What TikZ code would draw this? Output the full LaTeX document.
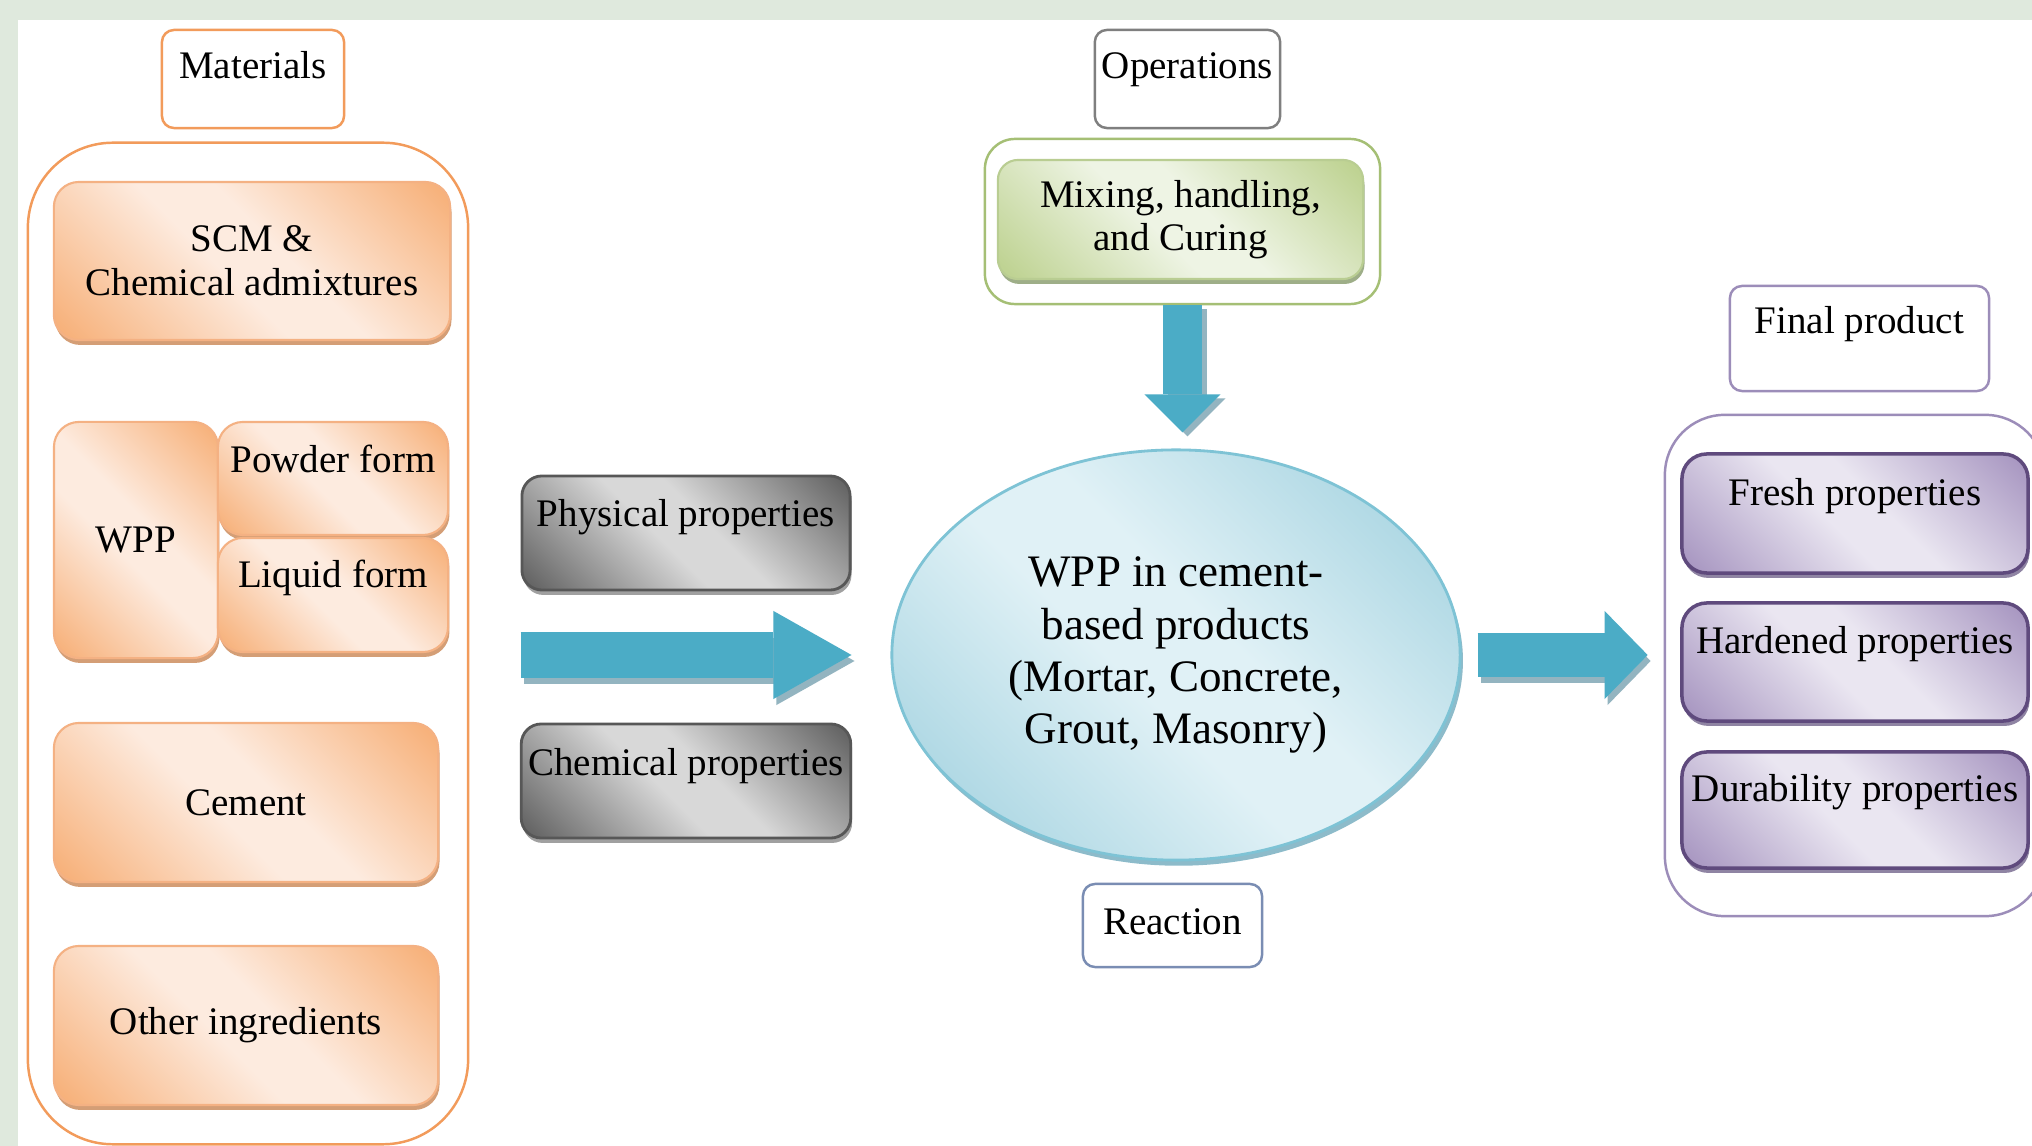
\documentclass[tikz,border=0pt]{standalone}
\usepackage{fontspec}
\setmainfont{Liberation Serif}
\usetikzlibrary{shapes.geometric,shadows,arrows.meta}

\definecolor{pagegreen}{HTML}{DFE9DD}
\definecolor{ordark}{HTML}{F7B27C}
\definecolor{orlight}{HTML}{FDEBDF}
\definecolor{orline}{HTML}{F4B183}
\definecolor{orshadow}{HTML}{D49E76}
\definecolor{orframe}{HTML}{F29B5B}
\definecolor{gndark}{HTML}{BFD393}
\definecolor{gnlight}{HTML}{EEF4E4}
\definecolor{gnline}{HTML}{B9CD92}
\definecolor{gnshadow}{HTML}{9EAE88}
\definecolor{gnframe}{HTML}{A5BF75}
\definecolor{gydark}{HTML}{666666}
\definecolor{gylight}{HTML}{D8D8D8}
\definecolor{gyline}{HTML}{575757}
\definecolor{gyshadow}{HTML}{A0A0A0}
\definecolor{opframe}{HTML}{7F7F7F}
\definecolor{ppdark}{HTML}{A998C2}
\definecolor{pplight}{HTML}{EAE6F1}
\definecolor{ppline}{HTML}{5F4A7D}
\definecolor{ppshadow}{HTML}{8F84A3}
\definecolor{ppframe}{HTML}{9C8DB9}
\definecolor{bldark}{HTML}{9FD0DE}
\definecolor{bllight}{HTML}{E0F1F6}
\definecolor{blline}{HTML}{7EC3D5}
\definecolor{blshadow}{HTML}{8DBBCA}
\definecolor{rxframe}{HTML}{7A8DB3}
\definecolor{arrowblue}{HTML}{4BACC6}
\definecolor{arrowshade}{HTML}{93B4C0}

\colorlet{sheendark}{ordark}
\colorlet{sheenlight}{orlight}
\pgfdeclarehorizontalshading[sheendark,sheenlight]{sheen}{100bp}{color(0bp)=(sheendark); color(17bp)=(sheendark);
	color(45bp)=(sheenlight); color(55bp)=(sheenlight); color(83bp)=(sheendark); color(100bp)=(sheendark)}

\begin{document}
\begin{tikzpicture}[x=0.01cm,y=-0.01cm,
		txt/.style={font=\fontsize{11.1}{12.4}\selectfont},
		sheen/.style 2 args={/utils/exec={\colorlet{sheendark}{#1}\colorlet{sheenlight}{#2}},shading=sheen,shading angle=45},
		holder/.style={draw=#1,line width=0.7pt},
		labelbox/.style={txt,draw=#1,line width=0.7pt,rounded corners=0.12cm,fill=white,inner xsep=2pt,inner ysep=0pt},
		matbox/.style={txt,draw=orline,line width=0.6pt,rounded corners=0.25cm,sheen={ordark}{orlight},inner xsep=2pt,inner ysep=0pt,
			drop shadow={shadow xshift=0.4pt,shadow yshift=-1.4pt,fill=orshadow,opacity=1}},
		opbox/.style={txt,draw=gnline,line width=0.6pt,rounded corners=0.2cm,sheen={gndark}{gnlight},inner xsep=2pt,inner ysep=0pt,
			drop shadow={shadow xshift=0.4pt,shadow yshift=-1.4pt,fill=gnshadow,opacity=1}},
		propbox/.style={txt,draw=gyline,line width=0.8pt,rounded corners=0.2cm,sheen={gydark}{gylight},inner xsep=2pt,inner ysep=0pt,
			drop shadow={shadow xshift=0.4pt,shadow yshift=-1.4pt,fill=gyshadow,opacity=1}},
		resbox/.style={txt,draw=ppline,line width=1pt,rounded corners=0.25cm,sheen={ppdark}{pplight},inner xsep=2pt,inner ysep=0pt,
			drop shadow={shadow xshift=0.4pt,shadow yshift=-1.4pt,fill=ppshadow,opacity=1}},
		core/.style={ellipse,draw=blline,line width=0.8pt,sheen={bldark}{bllight},minimum width=5.68cm,minimum height=4.10cm,
			inner sep=0pt,align=center,font=\fontsize{12.8}{14.8}\selectfont,
			drop shadow={shadow xshift=0.8pt,shadow yshift=-1.6pt,fill=blshadow,opacity=1}},
		fat/.style n args={3}{line width=#1,-{Triangle[width=#2,length=#3,line width=0pt]}}
	]
	\clip (0,0) rectangle (2032,1146);
	\fill[pagegreen] (0,0) rectangle (2032,1146);
	\fill[white] (18,20) rectangle (2032,1146);

	\node[holder=orframe,rounded corners=0.85cm,minimum width=4.40cm,minimum height=10.01cm] (matgroup) at (248,643.5) {};
	\node[holder=gnframe,rounded corners=0.3cm,minimum width=3.95cm,minimum height=1.65cm] (opgroup) at (1182.5,221.5) {};
	\node[holder=ppframe,rounded corners=0.6cm,minimum width=3.80cm,minimum height=5.01cm] (resgroup) at (1855,665.5) {};

	\node[labelbox=orframe,minimum width=1.82cm,text height=0.49cm,text depth=0.49cm] (mattag) at (253,79) {Materials};
	\node[labelbox=opframe,minimum width=1.83cm,text height=0.49cm,text depth=0.49cm] (optag) at (1187.5,79) {Operations};
	\node[labelbox=ppframe,minimum width=2.59cm,text height=0.48cm,text depth=0.57cm] (restag) at (1859.5,338.5) {Final product};
	\node[labelbox=rxframe,minimum width=1.79cm,text height=0.50cm,text depth=0.33cm] (rxtag) at (1172.5,925.5) {Reaction};

	\node[matbox,align=center,minimum width=3.96cm,minimum height=1.58cm] (scm) at (252,261) {SCM \&\\Chemical admixtures};
	\node[matbox,minimum width=1.64cm,minimum height=2.36cm] (wpp) at (136,540) {WPP};
	\node[matbox,minimum width=2.30cm,text height=0.51cm,text depth=0.62cm] (powder) at (333,478.5) {Powder form};
	\node[matbox,minimum width=2.30cm,text height=0.50cm,text depth=0.64cm] (liquid) at (333,595) {Liquid form};
	\node[matbox,minimum width=3.84cm,minimum height=1.59cm] (cement) at (246,802.5) {Cement};
	\node[matbox,minimum width=3.84cm,minimum height=1.59cm] (other) at (246,1025.5) {Other ingredients};

	\node[opbox,align=center,minimum width=3.65cm,minimum height=1.19cm] (mixing) at (1180.5,219.5) {Mixing, handling,\\and Curing};

	\node[propbox,minimum width=3.28cm,text height=0.51cm,text depth=0.63cm] (phys) at (686,533) {Physical properties};
	\node[propbox,minimum width=3.28cm,text height=0.52cm,text depth=0.62cm] (chem) at (686,781) {Chemical properties};

	\node[core] (core) at (1176,655) {WPP in cement-\\based products\\(Mortar, Concrete,\\Grout, Masonry)};

	\node[resbox,minimum width=3.46cm,text height=0.52cm,text depth=0.67cm] (fresh) at (1855,513.5) {Fresh properties};
	\node[resbox,minimum width=3.46cm,text height=0.51cm,text depth=0.67cm] (hard) at (1855,662) {Hardened properties};
	\node[resbox,minimum width=3.46cm,text height=0.50cm,text depth=0.66cm] (dura) at (1855,810) {Durability properties};

	\draw[fat={0.46cm}{0.88cm}{0.78cm},draw=arrowshade,transform canvas={shift={(0.03cm,-0.06cm)}}] (phys.west |- core.center) -- (phys.east |- core.center);
	\draw[fat={0.46cm}{0.88cm}{0.78cm},draw=arrowblue] (phys.west |- core.center) -- (phys.east |- core.center);
	\draw[fat={0.38cm}{0.76cm}{0.38cm},draw=arrowshade,shorten >=0.16cm,transform canvas={shift={(0.05cm,-0.04cm)}}] (opgroup.south) -- (opgroup.south |- core.north);
	\draw[fat={0.38cm}{0.76cm}{0.38cm},draw=arrowblue,shorten >=0.16cm] (opgroup.south) -- (opgroup.south |- core.north);
	\draw[fat={0.44cm}{0.88cm}{0.43cm},draw=arrowshade,shorten <=0.16cm,shorten >=0.16cm,transform canvas={shift={(0.03cm,-0.06cm)}}] (core.east) -- (resgroup.west |- core.east);
	\draw[fat={0.44cm}{0.88cm}{0.43cm},draw=arrowblue,shorten <=0.16cm,shorten >=0.16cm] (core.east) -- (resgroup.west |- core.east);
\end{tikzpicture}
\end{document}
